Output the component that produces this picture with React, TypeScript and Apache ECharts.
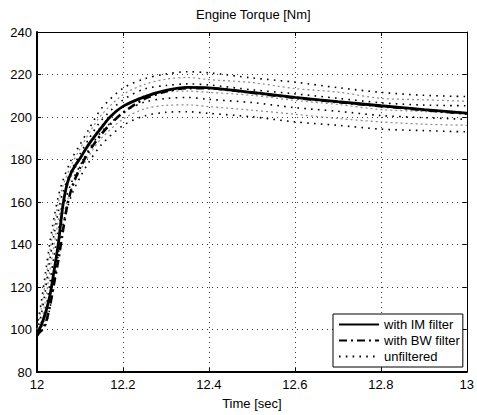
import React, { useEffect, useRef } from 'react';
import * as echarts from 'echarts';

const FONT = '"Liberation Sans", Arial, Helvetica, sans-serif';

// Filtered signals (time grid shared by both filtered series)
const filtTime = [12, 12.005, 12.01, 12.02, 12.03, 12.04, 12.05, 12.06, 12.07, 12.08, 12.09, 12.1, 12.12, 12.15, 12.17, 12.2, 12.25, 12.3, 12.35, 12.4, 12.5, 12.6, 12.7, 12.8, 12.9, 13];
const imFilter = [98.5, 100, 102, 108, 116, 128, 141, 158, 168.5, 174, 177.5, 180.5, 187, 195, 200, 205, 209.5, 212.5, 213.9, 213.7, 211.6, 209.2, 207.2, 205.3, 203.5, 201.8];
const bwFilter = [97, 98.5, 99.5, 103, 111, 122, 133, 146, 158, 166, 171.5, 176, 183.5, 192, 196.5, 202, 208.5, 212, 213.6, 213.5, 211.4, 209, 207, 205.1, 203.3, 201.6];

// Unfiltered band: rows of dotted traces (top to bottom)
const unfTime = [12, 12.01, 12.02, 12.03, 12.04, 12.05, 12.06, 12.08, 12.1, 12.12, 12.15, 12.2, 12.25, 12.3, 12.35, 12.4, 12.5, 12.6, 12.7, 12.8, 12.9, 13];
const unfRowA = [101, 113, 127, 141, 153, 163, 170, 180, 187, 194, 204, 213.5, 218, 220.2, 221.3, 220.8, 218.4, 216.4, 213.8, 211.6, 210.2, 209.6];
const unfRowB = [100, 110, 123, 137, 149, 160, 167.5, 177.5, 185, 192, 201, 210.5, 215.3, 217.8, 218.6, 217.6, 216.2, 213.4, 211.7, 208.8, 208.1, 207.4];
const unfRowC = [99, 107, 119, 133, 145, 156, 164.5, 175, 182.5, 189.5, 198.5, 208, 213.2, 214.8, 215.6, 215.1, 212.8, 210.9, 208.8, 206.7, 205.6, 205.3];
const unfRowD = [98.5, 104, 114, 128, 140, 152, 161, 172, 180, 187, 196, 205, 210, 212.1, 212.2, 211.6, 210.2, 207.8, 205.9, 203.5, 202.6, 201.4];
const unfRowE = [98, 102, 109, 122, 135, 147, 157, 169, 177, 184.5, 193, 202, 207, 208.7, 209.2, 208.3, 206.8, 204.4, 202.7, 200.7, 199.7, 198.9];
const unfRowF = [97.5, 100, 105, 116, 129, 142, 153, 166, 174.5, 181.5, 190, 199, 203.8, 205.5, 205.7, 204.9, 203.2, 201.3, 199.3, 197.7, 196.6, 196.1];
const unfRowG = [97, 99, 102, 110, 122, 136, 149, 163, 171.5, 178.5, 187, 196, 200.5, 202.2, 202.5, 201.7, 200.1, 197.7, 196.1, 194.3, 193.6, 193];
const unfRows = [unfRowA, unfRowB, unfRowC, unfRowD, unfRowE, unfRowF, unfRowG];

const xTicks = { min: 12, max: 13, interval: 0.2 };
const yTicks = { min: 80, max: 240, interval: 20 };
const legendNames = ['with IM filter', 'with BW filter', 'unfiltered'];

export default function App() {
  const ref = useRef<HTMLDivElement>(null);
  useEffect(() => {
    const chart = echarts.init(ref.current!, null, { renderer: 'svg' });
    const labelStyle = { color: '#000', fontSize: 13, fontFamily: FONT };
    const gridLine = { show: true, lineStyle: { color: '#3a3a3a', width: 1, type: [1, 4] as any } };

    const unfSeries = unfRows.map((row, k) => {
      const black = k % 2 === 0;
      const color = black ? '#000' : '#8a8a8a';
      return {
        name: 'unfiltered',
        type: 'line',
        symbol: 'none',
        smooth: 0.3,
        silent: true,
        z: 2,
        data: unfTime.map((t, i) => [t, row[i]]),
        itemStyle: { color },
        lineStyle: black
          ? { color, width: 1.6, type: [1.6, 5.2] }
          : { color, width: 1.2, type: [2, 3] },
      };
    });

    chart.setOption({
      animation: false,
      backgroundColor: '#fff',
      title: {
        text: 'Engine Torque [Nm]',
        left: 196,
        top: 8,
        padding: 0,
        textStyle: { fontSize: 13, fontWeight: 'normal', color: '#000', fontFamily: FONT },
      },
      grid: { left: 37, right: 5, top: 32, bottom: 42, containLabel: false },
      legend: {
        data: legendNames,
        orient: 'vertical',
        left: 333,
        top: 314,
        padding: [4, 3, 4, 5],
        itemWidth: 40,
        itemHeight: 13,
        itemGap: 3,
        backgroundColor: '#fff',
        borderColor: '#000',
        borderWidth: 1,
        borderRadius: 0,
        selectedMode: false,
        itemStyle: { opacity: 0 },
        textStyle: labelStyle,
      },
      xAxis: [
        {
          type: 'value',
          ...xTicks,
          position: 'bottom',
          axisLine: { show: true, onZero: false, lineStyle: { color: '#000', width: 2 } },
          axisTick: { show: true, inside: true, length: 4, lineStyle: { color: '#000' } },
          axisLabel: {
            ...labelStyle,
            margin: 6,
            formatter: (v: number) => String(Math.round(v * 10) / 10),
          },
          splitLine: gridLine,
          name: 'Time [sec]',
          nameLocation: 'middle',
          nameGap: 25,
          nameTextStyle: labelStyle,
        },
        {
          type: 'value',
          ...xTicks,
          position: 'top',
          axisLine: { show: true, onZero: false, lineStyle: { color: '#000', width: 1 } },
          axisTick: { show: true, inside: true, length: 4, lineStyle: { color: '#000' } },
          axisLabel: { show: false },
          splitLine: { show: false },
        },
      ],
      yAxis: [
        {
          type: 'value',
          ...yTicks,
          position: 'left',
          axisLine: { show: true, onZero: false, lineStyle: { color: '#000', width: 2 } },
          axisTick: { show: true, inside: true, length: 4, lineStyle: { color: '#000' } },
          axisLabel: { ...labelStyle, margin: 5 },
          splitLine: gridLine,
        },
        {
          type: 'value',
          ...yTicks,
          position: 'right',
          axisLine: { show: true, onZero: false, lineStyle: { color: '#000', width: 1 } },
          axisTick: { show: true, inside: true, length: 4, lineStyle: { color: '#000' } },
          axisLabel: { show: false },
          splitLine: { show: false },
        },
      ],
      series: [
        ...unfSeries,
        {
          name: 'with BW filter',
          type: 'line',
          symbol: 'none',
          smooth: 0.3,
          z: 3,
          data: filtTime.map((t, i) => [t, bwFilter[i]]),
          itemStyle: { color: '#000' },
          lineStyle: { color: '#000', width: 2.6, type: [8, 4, 2, 4] },
        },
        {
          name: 'with IM filter',
          type: 'line',
          symbol: 'none',
          smooth: 0.3,
          z: 4,
          data: filtTime.map((t, i) => [t, imFilter[i]]),
          itemStyle: { color: '#000' },
          lineStyle: { color: '#000', width: 2.8 },
        },
      ],
    });
    return () => chart.dispose();
  }, []);

  return (
    <div
      ref={ref}
      style={{ position: 'fixed', left: 0, top: 0, width: 477, height: 415, background: '#fff' }}
    />
  );
}
